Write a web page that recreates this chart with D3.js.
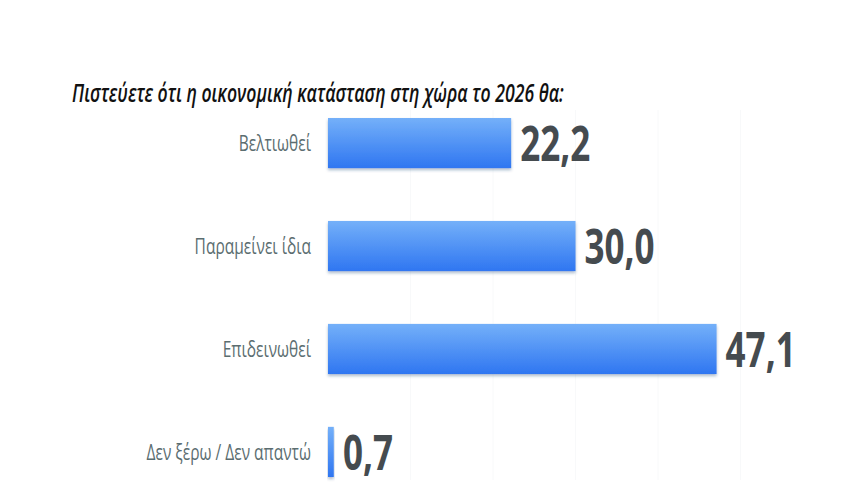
<!DOCTYPE html>
<html><head><meta charset="utf-8">
<script src="https://cdn.jsdelivr.net/npm/d3@7"></script>
<style>body{margin:0;background:#fff}svg{display:block}</style>
</head><body>
<script>
const title = "Πιστεύετε ότι η οικονομική κατάσταση στη χώρα το 2026 θα:";
const categories = ["Βελτιωθεί","Παραμείνει ίδια","Επιδεινωθεί","Δεν ξέρω / Δεν απαντώ"];
const values = [22.2, 30.0, 47.1, 0.7];
const valueLabels = ["22,2","30,0","47,1","0,7"];

const W = 865, H = 493;
const svg = d3.select("body").append("svg").attr("width", W).attr("height", H);
const defs = svg.append("defs");
const grad = defs.append("linearGradient").attr("id","barGrad").attr("x1",0).attr("y1",0).attr("x2",0).attr("y2",1);
grad.append("stop").attr("offset","0%").attr("stop-color","#74b0f9");
grad.append("stop").attr("offset","100%").attr("stop-color","#2f76f1");
const f = defs.append("filter").attr("id","sh").attr("x","-5%").attr("y","-20%").attr("width","110%").attr("height","150%");
f.append("feDropShadow").attr("dx",0).attr("dy",2).attr("stdDeviation",1.5).attr("flood-color","#1a3d6e").attr("flood-opacity",0.35);

const x = d3.scaleLinear().domain([0, 50]).range([328, 740.5]);
const y = d3.scaleBand().domain(categories).range([118, 477]).paddingInner(0.513).paddingOuter(0);

// very faint gridlines
svg.append("g").selectAll("line").data(x.ticks(5).slice(1)).join("line")
  .attr("x1", d => x(d)).attr("x2", d => x(d)).attr("y1", 110).attr("y2", 480)
  .attr("stroke", "#f8f9fa").attr("stroke-width", 1);

svg.append("text").text(title)
  .attr("font-family","'Open Sans', sans-serif").attr("font-style","italic").attr("font-weight",600)
  .attr("font-size",26).attr("fill","#111")
  .attr("transform","translate(72,102) scale(0.68,1)");

const rows = categories.map((c,i)=>({c, v: values[i], l: valueLabels[i]}));

svg.append("g").selectAll("rect").data(rows).join("rect")
  .attr("x", x(0)).attr("y", d => y(d.c))
  .attr("width", d => Math.max(x(d.v)-x(0), 4)).attr("height", y.bandwidth())
  .attr("fill","url(#barGrad)").attr("filter","url(#sh)");

svg.append("g").selectAll("text").data(rows).join("text")
  .text(d => d.c)
  .attr("font-family","'Open Sans', sans-serif").attr("font-size",21).attr("fill","#5b6d70")
  .attr("text-anchor","end")
  .attr("transform", d => `translate(311,${y(d.c)+y.bandwidth()/2+8}) scale(0.74,1)`);

svg.append("g").selectAll("text").data(rows).join("text")
  .text(d => d.l)
  .attr("font-family","'Open Sans', sans-serif").attr("font-weight",700).attr("font-size",48).attr("fill","#454b4f")
  .attr("transform", d => `translate(${Math.max(x(d.v), x(0)+6)+9},${y(d.c)+y.bandwidth()/2+18}) scale(0.73,1)`);
</script>
</body></html>
